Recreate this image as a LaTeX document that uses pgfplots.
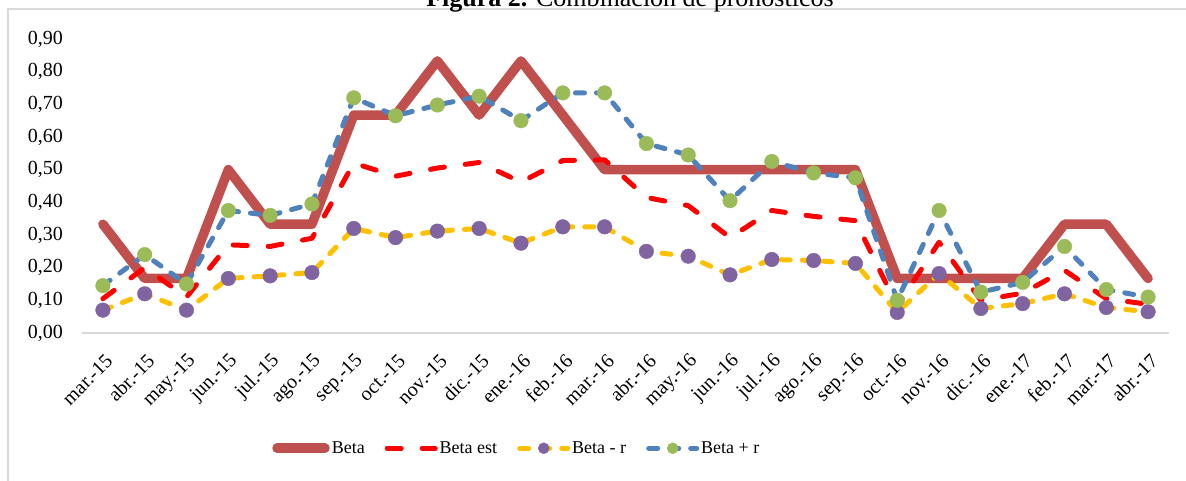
\documentclass[border=0pt]{standalone}
\usepackage{fontspec}
\setmainfont{Liberation Serif}
\usepackage{pgfplots}
\pgfplotsset{compat=1.18}
\usepackage{pgfplotstable}
\definecolor{cBeta}{HTML}{C0504D}
\definecolor{cEst}{HTML}{FF0000}
\definecolor{cMinus}{HTML}{FFC000}
\definecolor{cMinusM}{HTML}{8064A2}
\definecolor{cPlus}{HTML}{4F81BD}
\definecolor{cPlusM}{HTML}{9BBB59}
\definecolor{cFrame}{HTML}{D9D9D9}

\pgfplotstableread{
i beta est minus plus
0 0.333 0.105 0.070 0.145
1 0.167 0.200 0.120 0.240
2 0.167 0.110 0.070 0.150
3 0.500 0.270 0.167 0.375
4 0.333 0.265 0.175 0.360
5 0.333 0.290 0.185 0.395
6 0.667 0.520 0.320 0.720
7 0.667 0.480 0.292 0.665
8 0.833 0.505 0.312 0.698
9 0.667 0.522 0.320 0.725
10 0.833 0.462 0.275 0.650
11 0.667 0.528 0.325 0.735
12 0.500 0.530 0.325 0.735
13 0.500 0.415 0.250 0.580
14 0.500 0.390 0.235 0.545
15 0.500 0.292 0.178 0.405
16 0.500 0.375 0.225 0.525
17 0.500 0.357 0.222 0.490
18 0.500 0.344 0.213 0.475
19 0.167 0.082 0.063 0.100
20 0.167 0.278 0.182 0.375
21 0.167 0.100 0.075 0.125
22 0.167 0.122 0.090 0.155
23 0.333 0.192 0.120 0.265
24 0.333 0.105 0.078 0.133
25 0.167 0.088 0.065 0.110
}\datatable

\begin{document}
\begin{tikzpicture}[x=1pt,y=1pt]
\useasboundingbox (0,0) rectangle (1186,480);
\draw[cFrame, line width=1.5pt] (8,-20) rectangle (1210,471);
\node[anchor=base, inner sep=0pt, font=\fontsize{26}{30}\selectfont] at (630,473) {\textbf{Figura 2.} Combinación de pronósticos};
\begin{axis}[
  at={(82pt,147pt)}, anchor=south west,
  scale only axis, width=1087pt, height=294pt,
  xmin=-0.5, xmax=25.5, ymin=0, ymax=0.9,
  clip=false,
  xtick={0,...,25},
  xticklabels={mar.-15,abr.-15,may.-15,jun.-15,jul.-15,ago.-15,sep.-15,oct.-15,nov.-15,dic.-15,ene.-16,feb.-16,mar.-16,abr.-16,may.-16,jun.-16,jul.-16,ago.-16,sep.-16,oct.-16,nov.-16,dic.-16,ene.-17,feb.-17,mar.-17,abr.-17},
  ytick={0,0.1,0.2,0.3,0.4,0.5,0.6,0.7,0.8,0.9},
  axis x line*=bottom, axis y line*=left,
  x axis line style={-, draw=cFrame, line width=1.5pt},
  y axis line style={draw=none},
  major tick length=0pt,
  tick label style={font=\fontsize{20}{24}\selectfont},
  xticklabel style={rotate=45, anchor=east, inner sep=0pt, xshift=-13pt, yshift=-22pt},
  yticklabel style={anchor=east, inner sep=0pt, xshift=-19pt},
  /pgf/number format/fixed, /pgf/number format/fixed zerofill,
  /pgf/number format/precision=2, /pgf/number format/use comma,
  /pgf/number format/assume math mode=true,
  legend columns=4,
  legend style={at={(axis description cs:0.400,-0.392)}, anchor=center, draw=none, fill=none,
    font=\fontsize{18}{21}\selectfont,
    /tikz/every even column/.append style={column sep=18pt}},
  legend image code/.code={\draw[mark repeat=2,mark phase=2,#1] plot coordinates {(0pt,0pt) (24pt,0pt) (48pt,0pt)};},
  legend image post style={mark size=5.5pt},
]
\addplot[cBeta, line width=9.5pt, line cap=round, line join=round] table[x=i, y=beta] {\datatable};
\addlegendentry{Beta}
\addplot[cEst, line width=5pt, line cap=round, line join=round, dash pattern=on 14pt off 21pt] table[x=i, y=est] {\datatable};
\addlegendentry{Beta est}
\addplot[cMinus, line width=5pt, line cap=round, line join=round, dash pattern=on 9pt off 12pt, mark=*, mark size=7.3pt, mark options={solid, line width=0.4pt, draw=cMinusM, fill=cMinusM}] table[x=i, y=minus] {\datatable};
\addlegendentry{Beta - r}
\addplot[cPlus, line width=5pt, line cap=round, line join=round, dash pattern=on 9pt off 12pt, mark=*, mark size=7.3pt, mark options={solid, line width=0.4pt, draw=cPlusM, fill=cPlusM}] table[x=i, y=plus] {\datatable};
\addlegendentry{Beta + r}
\end{axis}
\end{tikzpicture}
\end{document}
